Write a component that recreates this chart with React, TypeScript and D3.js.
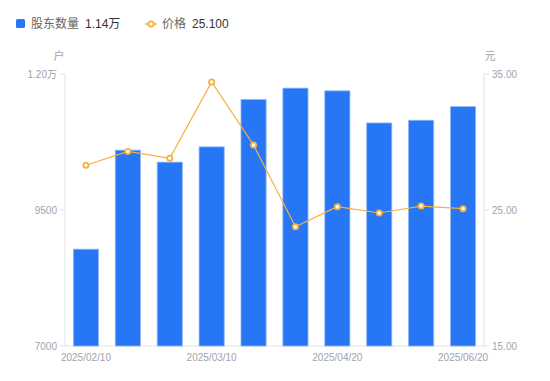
import React from "react";
import * as d3 from "d3";

const categories = [
  "2025/02/10", "2025/02/20", "2025/02/28", "2025/03/10", "2025/03/20",
  "2025/03/31", "2025/04/20", "2025/05/10", "2025/05/30", "2025/06/20",
];
const holders = [8780, 10600, 10380, 10660, 11530, 11740, 11690, 11100, 11150, 11400];
const prices = [28.29, 29.31, 28.8, 34.41, 29.78, 23.77, 25.24, 24.78, 25.29, 25.1];
const leftTicks = [7000, 9500, 12000];
const rightTicks = [15, 25, 35];
const shownLabels = ["2025/02/10", "2025/03/10", "2025/04/20", "2025/06/20"];

const W = 550, H = 381;
const left = 65, right = 484, top = 74, bottom = 346;
const FONT = "'Liberation Sans', 'Noto Sans CJK SC', Arial, sans-serif";
const BLUE = "#2776f5";
const ORANGE = "#f8b13c";
const GRAY = "#a0a3ad";

export default function App() {
  const x = d3.scaleBand<string>().domain(categories).range([left, right]).paddingInner(0).paddingOuter(0);
  const yL = d3.scaleLinear().domain([7000, 12000]).range([bottom, top]);
  const yR = d3.scaleLinear().domain([15, 35]).range([bottom, top]);
  const bw = x.bandwidth() * 0.6;
  const cx = (c: string) => (x(c) as number) + x.bandwidth() / 2;
  const line = d3.line<number>().x((_, i) => cx(categories[i])).y((d) => yR(d));
  const fmtL = (v: number) => (v >= 10000 ? (v / 10000).toFixed(2) + "万" : String(v));
  const last = holders[holders.length - 1];

  return (
    <svg width={W} height={H} style={{ position: "absolute", left: 0, top: 0, fontFamily: FONT }}>
      <rect width={W} height={H} fill="#fff" />
      {/* legend */}
      <rect x={16} y={19} width={9} height={9} rx={1.5} fill={BLUE} />
      <text x={31} y={28} fontSize={12} fill="#666">股东数量</text>
      <text x={85} y={28} fontSize={12} fill="#333">{(last / 10000).toFixed(2)}万</text>
      <line x1={145} x2={157} y1={24} y2={24} stroke={ORANGE} strokeWidth={1.5} />
      <circle cx={151} cy={24} r={2.6} fill="#fff" stroke={ORANGE} strokeWidth={1.8} />
      <text x={162} y={28} fontSize={12} fill="#666">价格</text>
      <text x={192} y={28} fontSize={12} fill="#333">{prices[prices.length - 1].toFixed(3)}</text>

      {/* axis names */}
      <text x={59} y={60} fontSize={11} fill={GRAY} textAnchor="middle">户</text>
      <text x={490} y={60} fontSize={11} fill={GRAY} textAnchor="middle">元</text>

      {/* axes */}
      <line x1={left} x2={left} y1={top} y2={bottom} stroke="#e3e3e6" />
      <line x1={right} x2={right} y1={top} y2={bottom} stroke="#e3e3e6" />
      <line x1={left} x2={right} y1={bottom} y2={bottom} stroke="#e3e3e6" />
      {leftTicks.map((t) => (
        <g key={"l" + t}>
          <line x1={left - 5} x2={left} y1={yL(t)} y2={yL(t)} stroke="#e3e3e6" />
          <text x={left - 8} y={yL(t) + 3.5} fontSize={10} fill={GRAY} textAnchor="end">{fmtL(t)}</text>
        </g>
      ))}
      {rightTicks.map((t) => (
        <g key={"r" + t}>
          <line x1={right} x2={right + 5} y1={yR(t)} y2={yR(t)} stroke="#e3e3e6" />
          <text x={right + 8} y={yR(t) + 3.5} fontSize={10} fill={GRAY} textAnchor="start">{t.toFixed(2)}</text>
        </g>
      ))}
      {shownLabels.map((c) => (
        <text key={c} x={cx(c)} y={361} fontSize={10} fill={GRAY} textAnchor="middle">{c}</text>
      ))}

      {/* bars */}
      {holders.map((v, i) => (
        <rect key={i} x={cx(categories[i]) - bw / 2} y={yL(v)} width={bw} height={bottom - yL(v)}
          fill={BLUE} stroke="#8fb6f7" strokeWidth={0.8} />
      ))}

      {/* price line */}
      <path d={line(prices) || ""} fill="none" stroke={ORANGE} strokeWidth={1.2} />
      {prices.map((p, i) => (
        <circle key={i} cx={cx(categories[i])} cy={yR(p)} r={2.6} fill="#fff" stroke={ORANGE} strokeWidth={1.8} />
      ))}
    </svg>
  );
}
